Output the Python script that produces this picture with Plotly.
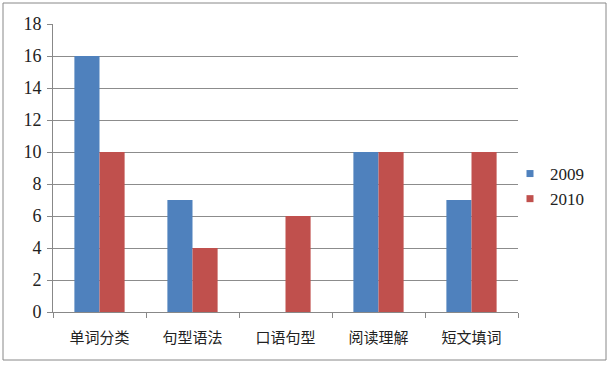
import plotly.graph_objects as go

categories = ["单词分类", "句型语法", "口语句型", "阅读理解", "短文填词"]
values_2009 = [16, 7, 0, 10, 7]
values_2010 = [10, 4, 6, 10, 10]
series_names = ["2009", "2010"]
colors = ["#4F81BD", "#C0504D"]
y_ticks = list(range(0, 19, 2))

L, R, T, B = 53, 518, 24, 312
W, H = 610, 370

fig = go.Figure()
for name, vals, c in zip(series_names, [values_2009, values_2010], colors):
    fig.add_bar(x=categories, y=vals, name=name, marker_color=c,
                marker_line_width=0, showlegend=False)
for name, c in zip(series_names, colors):
    fig.add_scatter(x=[None], y=[None], mode="markers", name=name,
                    marker=dict(symbol="square", size=7, color=c))

def px(x):
    return (x - L) / (R - L)

def py(y):
    return (B - y) / (B - T)

serif = "'Liberation Serif', 'Times New Roman', serif"
cjk = "'Noto Sans CJK SC'"
fig.update_layout(
    width=W, height=H,
    margin=dict(l=L, r=W - R, t=T, b=H - B, pad=0),
    paper_bgcolor="white", plot_bgcolor="white",
    barmode="group", bargap=0.46, bargroupgap=0,
    font=dict(family=serif, size=15, color="#222"),
    legend=dict(x=px(510), y=py(156), xanchor="left", yanchor="top",
                font=dict(family=serif, size=17), itemwidth=30, tracegroupgap=2,
                bgcolor="rgba(0,0,0,0)"),
    xaxis=dict(showline=True, linecolor="#888", linewidth=1, tickson="boundaries",
               ticks="outside", ticklen=5, tickcolor="#888", showgrid=False,
               ticklabelstandoff=12,
               tickfont=dict(family=cjk, size=15)),
    yaxis=dict(range=[0, 18], tickvals=y_ticks, showline=True, linecolor="#888",
               linewidth=1, ticks="outside", ticklen=5, tickcolor="#888",
               gridcolor="#8c8c8c", gridwidth=1, zeroline=False,
               ticklabelstandoff=2,
               tickfont=dict(family=serif, size=18)),
    shapes=[dict(type="rect", xref="paper", yref="paper",
                 x0=px(3), x1=px(606), y0=py(360), y1=py(3),
                 line=dict(color="#888", width=1))],
)

fig.write_html("out.html", config={"displayModeBar": False},
               post_script="document.body.style.margin='0';")
